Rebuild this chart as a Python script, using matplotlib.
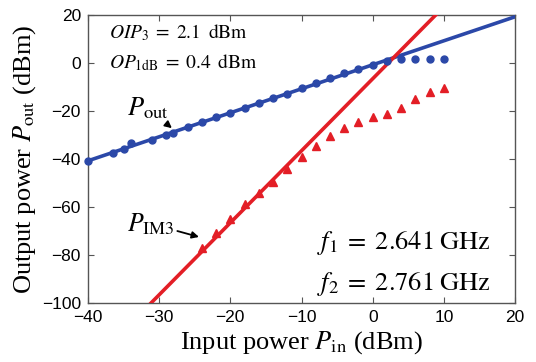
import matplotlib
matplotlib.use("Agg")
import matplotlib.pyplot as plt

plt.rcParams['mathtext.fontset'] = 'stix'
plt.rcParams['font.family'] = 'Liberation Sans'

# measured output power (fundamental)
pin_out = [-40, -36.5, -35, -34, -31, -29, -28, -26, -24, -22, -20, -18, -16,
           -14, -12, -10, -8, -6, -4, -2, 0, 2, 4, 6, 8, 10]
pout = [-40.8, -37.6, -35.8, -33.4, -32.0, -29.9, -29.0, -26.9, -24.6, -22.7,
        -20.8, -18.7, -16.6, -14.8, -12.9, -10.6, -8.5, -6.4, -4.3, -2.4,
        -0.9, 0.6, 1.5, 1.5, 1.5, 1.5]

# measured third order intermod
pin_im3 = [-24, -22, -20, -18, -16, -14, -12, -10, -8, -6, -4, -2, 0, 2, 4, 6, 8, 10]
pim3 = [-77.0, -70.8, -65.0, -58.6, -54.0, -49.5, -44.2, -39.3, -34.6, -30.4,
        -27.1, -24.6, -22.5, -21.5, -18.9, -15.0, -12.2, -10.6]

# fitted lines (end points)
fit_fund_x = [-40, 20]
fit_fund_y = [-40.8, 19.2]
fit_im3_x = [-31.13, 8.87]
fit_im3_y = [-100, 20]

blue = '#2b48a8'
red = '#e31e26'

fig = plt.figure(figsize=(5.36, 3.62), dpi=100)
ax = fig.add_axes([0.164, 0.163, 0.797, 0.796])

ax.plot(fit_fund_x, fit_fund_y, color=blue, lw=2.6, zorder=3)
ax.plot(fit_im3_x, fit_im3_y, color=red, lw=2.6, zorder=3)
ax.plot(pin_out, pout, 'o', color=blue, ms=5, zorder=4, clip_on=False)
ax.plot(pin_im3, pim3, '^', color=red, ms=6, zorder=4)

ax.set_xlim(-40, 20)
ax.set_ylim(-100, 20)
ax.set_xticks(range(-40, 21, 10))
ax.set_yticks(range(-100, 21, 20))
ax.tick_params(direction='in', top=True, right=True, length=4, width=0.8,
               color='#555555', labelsize=12.5)
ax.tick_params(axis='x', pad=5)
ax.tick_params(axis='y', pad=5)
for s in ax.spines.values():
    s.set_color('#555555')
    s.set_linewidth(1.0)

ax.set_xlabel(r'Input power $P_{\mathrm{in}}$ (dBm)', fontsize=19,
              family='Liberation Serif', labelpad=3)
ax.set_ylabel(r'Output power $P_{\mathrm{out}}$ (dBm)', fontsize=19,
              family='Liberation Serif')
ax.yaxis.set_label_coords(-0.117, 0.5)

ax.text(-37, 12.5, r'$OIP_3\;=\;2.1\;\;\mathrm{dBm}$', fontsize=14, va='center')
ax.text(-37, 0, r'$OP_{\mathrm{1dB}}\;=\;0.4\;\;\mathrm{dBm}$', fontsize=14, va='center')

ax.annotate(r'$P_{\mathrm{out}}$', xy=(-28.2, -27.2), xytext=(-34.5, -19),
            fontsize=19, va='center',
            arrowprops=dict(arrowstyle='-|>', color='black', lw=1.3,
                            shrinkA=0, shrinkB=0, mutation_scale=10))
ax.annotate(r'$P_{\mathrm{IM3}}$', xy=(-24.4, -72.5), xytext=(-34.5, -67),
            fontsize=18.5, va='center',
            arrowprops=dict(arrowstyle='-|>', color='black', lw=1.3,
                            shrinkA=0, shrinkB=0, mutation_scale=10))

ax.text(16.5, -75, r'$f_1\;=\;2.641\;\mathrm{GHz}$', fontsize=19, ha='right', va='center')
ax.text(16.5, -92, r'$f_2\;=\;2.761\;\mathrm{GHz}$', fontsize=19, ha='right', va='center')

fig.savefig('out.png', dpi=100)
